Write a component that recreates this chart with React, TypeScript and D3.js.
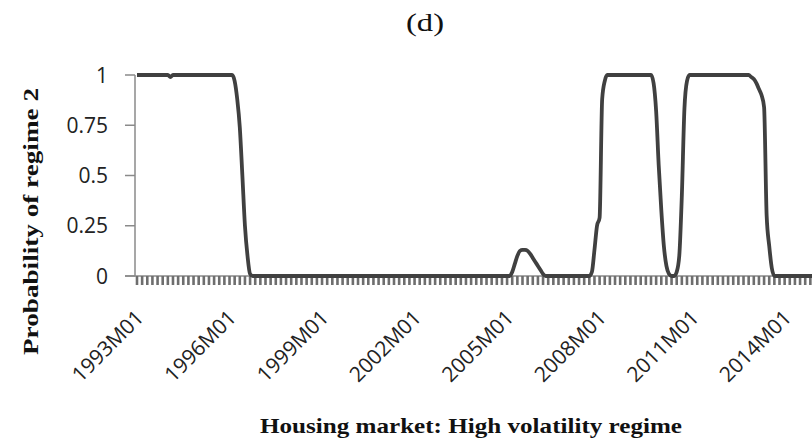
import React, { useEffect, useRef } from "react";
import * as d3 from "d3";

// Monthly probability of regime 2, 1993M01 .. 2014M12 (one row per year)
const prob1993 = [1, 1, 1, 1, 1, 1, 1, 1, 1, 1, 1, 1];
const prob1994 = [1, 0.99, 1, 1, 1, 1, 1, 1, 1, 1, 1, 1];
const prob1995 = [1, 1, 1, 1, 1, 1, 1, 1, 1, 1, 1, 1];
const prob1996 = [1, 1, 0.97, 0.88, 0.74, 0.5, 0.25, 0.1, 0.01, 0, 0, 0];
const prob1997 = [0, 0, 0, 0, 0, 0, 0, 0, 0, 0, 0, 0];
const prob1998 = [0, 0, 0, 0, 0, 0, 0, 0, 0, 0, 0, 0];
const prob1999 = [0, 0, 0, 0, 0, 0, 0, 0, 0, 0, 0, 0];
const prob2000 = [0, 0, 0, 0, 0, 0, 0, 0, 0, 0, 0, 0];
const prob2001 = [0, 0, 0, 0, 0, 0, 0, 0, 0, 0, 0, 0];
const prob2002 = [0, 0, 0, 0, 0, 0, 0, 0, 0, 0, 0, 0];
const prob2003 = [0, 0, 0, 0, 0, 0, 0, 0, 0, 0, 0, 0];
const prob2004 = [0, 0, 0, 0, 0, 0, 0, 0, 0, 0, 0, 0];
const prob2005 = [0, 0, 0.02, 0.06, 0.1, 0.125, 0.13, 0.13, 0.125, 0.11, 0.09, 0.07];
const prob2006 = [0.05, 0.03, 0.01, 0, 0, 0, 0, 0, 0, 0, 0, 0];
const prob2007 = [0, 0, 0, 0, 0, 0, 0, 0, 0, 0.02, 0.13, 0.25];
const prob2008 = [0.29, 0.88, 0.97, 1, 1, 1, 1, 1, 1, 1, 1, 1];
const prob2009 = [1, 1, 1, 1, 1, 1, 1, 1, 1, 0.96, 0.82, 0.55];
const prob2010 = [0.33, 0.15, 0.05, 0.01, 0, 0, 0.02, 0.1, 0.4, 0.83, 0.97, 1];
const prob2011 = [1, 1, 1, 1, 1, 1, 1, 1, 1, 1, 1, 1];
const prob2012 = [1, 1, 1, 1, 1, 1, 1, 1, 1, 1, 1, 0.99];
const prob2013 = [0.98, 0.96, 0.93, 0.9, 0.84, 0.3, 0.15, 0.04, 0, 0, 0, 0];
const prob2014 = [0, 0, 0, 0, 0, 0, 0, 0, 0, 0, 0, 0];

const probability: number[] = [
  ...prob1993, ...prob1994, ...prob1995, ...prob1996, ...prob1997, ...prob1998,
  ...prob1999, ...prob2000, ...prob2001, ...prob2002, ...prob2003, ...prob2004,
  ...prob2005, ...prob2006, ...prob2007, ...prob2008, ...prob2009, ...prob2010,
  ...prob2011, ...prob2012, ...prob2013, ...prob2014,
];

const yTicks = [0, 0.25, 0.5, 0.75, 1];
const xLabelMonths = [0, 36, 72, 108, 144, 180, 216, 252];
const xLabels = ["1993M01", "1996M01", "1999M01", "2002M01", "2005M01", "2008M01", "2011M01", "2014M01"];

const title = "(d)";
const yTitle = "Probability of regime 2";
const xTitle = "Housing market: High volatility regime";

export default function App() {
  const ref = useRef<SVGSVGElement>(null);

  useEffect(() => {
    const svg = d3.select(ref.current);
    svg.selectAll("*").remove();

    const W = 812, H = 445;
    const x0 = 137, pxPerMonth = 2.57;
    const n = probability.length;
    const x = d3.scaleLinear().domain([0, n - 1]).range([x0, x0 + (n - 1) * pxPerMonth]);
    const y = d3.scaleLinear().domain([0, 1]).range([276, 75]);
    const axisColor = "#8a8a8a";
    const sans = "'Open Sans', 'DejaVu Sans', sans-serif";
    const serif = "'Liberation Serif', 'Times New Roman', serif";

    svg.append("rect").attr("width", W).attr("height", H).attr("fill", "#fff");

    // Y axis
    const yAxisX = 135;
    svg.append("line").attr("x1", yAxisX).attr("x2", yAxisX).attr("y1", y(1)).attr("y2", y(0))
      .attr("stroke", axisColor).attr("stroke-width", 1.5);
    const yt = svg.append("g");
    yTicks.forEach((t) => {
      yt.append("line").attr("x1", yAxisX - 10).attr("x2", yAxisX).attr("y1", y(t)).attr("y2", y(t))
        .attr("stroke", axisColor).attr("stroke-width", 1.5);
      yt.append("text").attr("x", 108).attr("y", y(t)).attr("dy", "0.36em")
        .attr("text-anchor", "end").attr("font-family", sans).attr("font-size", 21)
        .attr("fill", "#222").text(String(t));
    });

    // X axis
    svg.append("line").attr("x1", yAxisX - 10).attr("x2", W).attr("y1", y(0)).attr("y2", y(0))
      .attr("stroke", axisColor).attr("stroke-width", 1.5);
    const tickMonths = d3.range(0, n + 2, 2);
    svg.append("g").selectAll("line").data(tickMonths).join("line")
      .attr("x1", (d) => x(d)).attr("x2", (d) => x(d))
      .attr("y1", y(0)).attr("y2", y(0) + 9)
      .attr("stroke", "#6e6e6e").attr("stroke-width", 2.6);

    svg.append("g").selectAll("text").data(xLabelMonths).join("text")
      .attr("transform", (d) => `translate(${x(d) + 8},${319}) rotate(-45)`)
      .attr("text-anchor", "end").attr("font-family", sans).attr("font-size", 21)
      .attr("fill", "#222").text((_, i) => xLabels[i]);

    // Line
    const line = d3.line<number>().x((_, i) => x(i)).y((d) => y(d)).curve(d3.curveMonotoneX);
    svg.append("path").datum(probability).attr("d", line).attr("fill", "none")
      .attr("stroke", "#404040").attr("stroke-width", 3.8).attr("stroke-linejoin", "round");

    // Titles
    svg.append("text").attr("x", 406).attr("y", 31)
      .attr("textLength", 38).attr("lengthAdjust", "spacingAndGlyphs")
      .attr("font-family", serif).attr("font-size", 25).attr("fill", "#111").text(title);
    svg.append("text").attr("transform", `translate(38,221.5) rotate(-90)`).attr("text-anchor", "middle")
      .attr("textLength", 267).attr("lengthAdjust", "spacingAndGlyphs")
      .attr("font-family", serif).attr("font-weight", "bold").attr("font-size", 22)
      .attr("fill", "#111").text(yTitle);
    svg.append("text").attr("x", 260).attr("y", 433).attr("text-anchor", "start")
      .attr("textLength", 422).attr("lengthAdjust", "spacingAndGlyphs")
      .attr("font-family", serif).attr("font-weight", "bold").attr("font-size", 22)
      .attr("fill", "#111").text(xTitle);
  }, []);

  return (
    <svg ref={ref} width={812} height={445}
      style={{ position: "absolute", left: 0, top: 0, display: "block" }} />
  );
}
